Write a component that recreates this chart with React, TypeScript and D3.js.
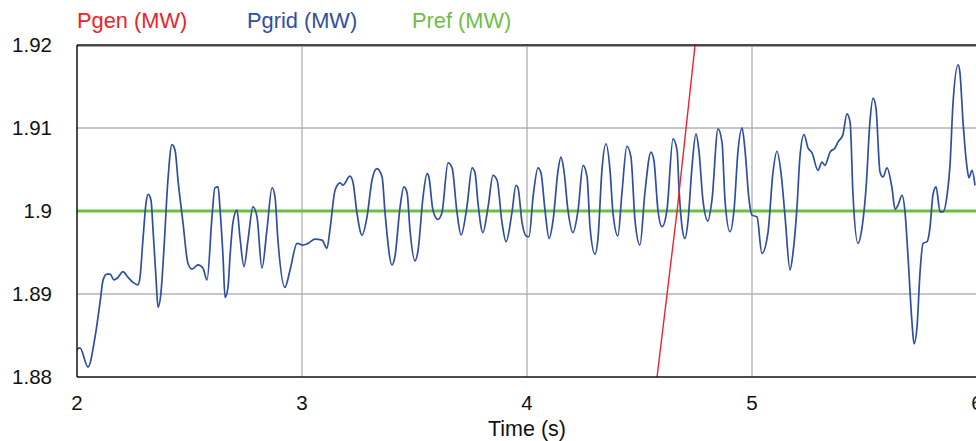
import React from "react";
import * as d3 from "d3";

// Time samples (s) and grid power (MW)
const gridTime = [
  2.0, 2.013, 2.049, 2.08, 2.102, 2.116, 2.133, 2.147, 2.164, 2.182, 2.204, 2.227, 2.249, 2.271, 2.28,
  2.293, 2.307, 2.316, 2.329, 2.338, 2.351, 2.36, 2.373, 2.387, 2.404, 2.422, 2.436, 2.449, 2.471, 2.493,
  2.511, 2.538, 2.56, 2.578, 2.6, 2.613, 2.627, 2.636, 2.649, 2.658, 2.671, 2.68, 2.693, 2.711, 2.724,
  2.742, 2.76, 2.782, 2.8, 2.822, 2.844, 2.867, 2.88, 2.893, 2.924, 2.947, 2.978, 3.004, 3.027, 3.058,
  3.089, 3.111, 3.124, 3.147, 3.169, 3.182, 3.213, 3.227, 3.244, 3.267, 3.289, 3.311, 3.333, 3.356, 3.369,
  3.4, 3.413, 3.436, 3.453, 3.467, 3.48, 3.502, 3.516, 3.538, 3.556, 3.564, 3.582, 3.604, 3.622, 3.649,
  3.667, 3.689, 3.707, 3.733, 3.756, 3.769, 3.782, 3.804, 3.827, 3.849, 3.867, 3.889, 3.907, 3.933, 3.951,
  3.96, 3.978, 3.996, 4.009, 4.027, 4.049, 4.062, 4.08, 4.098, 4.116, 4.138, 4.151, 4.164, 4.182, 4.204,
  4.227, 4.249, 4.267, 4.28, 4.302, 4.316, 4.333, 4.351, 4.369, 4.382, 4.404, 4.422, 4.444, 4.462, 4.48,
  4.502, 4.524, 4.551, 4.564, 4.582, 4.6, 4.622, 4.649, 4.667, 4.676, 4.689, 4.702, 4.716, 4.733, 4.751,
  4.764, 4.782, 4.804, 4.822, 4.849, 4.867, 4.88, 4.902, 4.92, 4.938, 4.956, 4.969, 4.987, 5.0, 5.022,
  5.044, 5.071, 5.093, 5.111, 5.129, 5.147, 5.169, 5.182, 5.2, 5.213, 5.231, 5.249, 5.267, 5.293, 5.311,
  5.324, 5.347, 5.369, 5.382, 5.404, 5.422, 5.436, 5.449, 5.471, 5.489, 5.507, 5.524, 5.538, 5.551, 5.569,
  5.582, 5.6, 5.622, 5.636, 5.649, 5.667, 5.68, 5.693, 5.711, 5.72, 5.733, 5.747, 5.76, 5.778, 5.791,
  5.804, 5.818, 5.836, 5.849, 5.867, 5.88, 5.893, 5.916, 5.924, 5.938, 5.956, 5.964, 5.978, 5.991,
];
const gridPower = [
  1.8833, 1.8835, 1.8812, 1.8848, 1.8889, 1.8917, 1.8924, 1.8924, 1.8917, 1.892, 1.8927, 1.892, 1.8914, 1.8911, 1.892,
  1.8965, 1.901, 1.902, 1.9013, 1.8977, 1.892, 1.8884, 1.8901, 1.8957, 1.9037, 1.908, 1.9073, 1.9037, 1.8986, 1.8937,
  1.893, 1.8935, 1.8931, 1.8917, 1.8993, 1.9028, 1.9029, 1.9001, 1.8945, 1.8896, 1.8908, 1.8945, 1.8986, 1.9001, 1.8969,
  1.8933, 1.8965, 1.9005, 1.8993, 1.8931, 1.8977, 1.9028, 1.9017, 1.8965, 1.8908, 1.8929, 1.8961, 1.8959, 1.8961, 1.8966,
  1.8965, 1.8955, 1.8977, 1.9025, 1.9034, 1.9031, 1.9042, 1.9034, 1.8998, 1.8971, 1.8993, 1.9037, 1.9051, 1.9041, 1.8998,
  1.8935, 1.8945, 1.9005, 1.9029, 1.9022, 1.8977, 1.894, 1.8953, 1.9017, 1.9045, 1.9041, 1.9001, 1.899, 1.8998, 1.9058,
  1.9052, 1.8998, 1.8971, 1.9005, 1.9052, 1.9046, 1.901, 1.8974, 1.9005, 1.9043, 1.9037, 1.8986, 1.8963, 1.8998, 1.9031,
  1.9028, 1.8986, 1.897, 1.8969, 1.9017, 1.9052, 1.9046, 1.9001, 1.8967, 1.8989, 1.9049, 1.9065, 1.9049, 1.9001, 1.8974,
  1.9001, 1.9055, 1.9041, 1.8981, 1.8948, 1.8969, 1.9049, 1.9081, 1.9049, 1.8998, 1.897, 1.9022, 1.9078, 1.9065, 1.8989,
  1.8959, 1.9022, 1.9071, 1.9061, 1.9001, 1.8981, 1.9001, 1.9087, 1.9073, 1.9025, 1.8981, 1.8967, 1.8989, 1.9052, 1.9093,
  1.9073, 1.9013, 1.8988, 1.9013, 1.9099, 1.9082, 1.9013, 1.8975, 1.9001, 1.9073, 1.91, 1.9073, 1.9013, 1.8995, 1.8993,
  1.8949, 1.8974, 1.9046, 1.9072, 1.9046, 1.8993, 1.8929, 1.8949, 1.9005, 1.9065, 1.9092, 1.9076, 1.907, 1.9049, 1.9059,
  1.9055, 1.9071, 1.9076, 1.9083, 1.9092, 1.9117, 1.9107, 1.9019, 1.8961, 1.898, 1.9028, 1.9107, 1.9136, 1.9124, 1.9047,
  1.9041, 1.9052, 1.9028, 1.9002, 1.9007, 1.9019, 1.8999, 1.8947, 1.8866, 1.884, 1.8859, 1.8927, 1.8961, 1.8963, 1.898,
  1.9019, 1.9029, 1.8999, 1.8999, 1.9019, 1.9055, 1.9128, 1.9176, 1.9167, 1.9107, 1.9052, 1.904, 1.9049, 1.9031,
];

// Generator power ramp (MW)
const genTime = [4.578, 4.667, 4.747];
const genPower = [1.88, 1.9, 1.92];

// Reference power (MW)
const refTime = [2, 6];
const refPower = [1.9, 1.9];

const xTicks = [2, 3, 4, 5, 6];
const yTicks = [1.88, 1.89, 1.9, 1.91, 1.92];
const yTickLabels = ["1.88", "1.89", "1.9", "1.91", "1.92"];

const legendItems = ["Pgen (MW)", "Pgrid (MW)", "Pref (MW)"];
const legendColors = ["#ee2229", "#2f4ea3", "#6cbf45"];
const legendX = [77, 247, 412];

const W = 976;
const H = 441;
const left = 77;
const right = 977;
const top = 45;
const bottom = 377;
const FONT = "'Liberation Sans', Arial, Helvetica, sans-serif";

export default function App() {
  const x = d3.scaleLinear().domain([2, 6]).range([left, right]);
  const y = d3.scaleLinear().domain([1.88, 1.92]).range([bottom, top]);

  const line = d3
    .line<[number, number]>()
    .x((d) => x(d[0]))
    .y((d) => y(d[1]))
    .curve(d3.curveMonotoneX);
  const straight = d3
    .line<[number, number]>()
    .x((d) => x(d[0]))
    .y((d) => y(d[1]));

  const gridPts = gridTime.map((t, i) => [t, gridPower[i]] as [number, number]);
  const genPts = genTime.map((t, i) => [t, genPower[i]] as [number, number]);
  const refPts = refTime.map((t, i) => [t, refPower[i]] as [number, number]);

  return (
    <svg
      width={W}
      height={H}
      style={{ position: "absolute", left: 0, top: 0, background: "#fff" }}
      fontFamily={FONT}
    >
      <defs>
        <clipPath id="plot">
          <rect x={left} y={top} width={right - left} height={bottom - top} />
        </clipPath>
      </defs>

      {/* horizontal grid */}
      {yTicks.slice(1).map((v) => (
        <line key={"h" + v} x1={left} x2={right} y1={y(v) + (v === 1.92 ? 1.3 : 0)} y2={y(v) + (v === 1.92 ? 1.3 : 0)} stroke="#8c8c8c" strokeWidth={1} />
      ))}
      {/* vertical grid */}
      {xTicks.slice(1).map((t) => (
        <line key={"v" + t} x1={x(t)} x2={x(t)} y1={top} y2={bottom} stroke="#a8a8a8" strokeWidth={1.2} />
      ))}

      <g clipPath="url(#plot)">
        <path d={straight(refPts) || ""} fill="none" stroke={legendColors[2]} strokeWidth={3} />
        <path d={line(gridPts) || ""} fill="none" stroke={legendColors[1]} strokeWidth={1.7} />
        <path d={straight(genPts) || ""} fill="none" stroke={legendColors[0]} strokeWidth={1.4} />
      </g>

      {/* frame */}
      <line x1={left} x2={right} y1={top} y2={top} stroke="#111" strokeWidth={1.5} />
      <line x1={left} x2={left} y1={top} y2={bottom} stroke="#111" strokeWidth={1.5} />
      <line x1={left} x2={right} y1={bottom} y2={bottom} stroke="#111" strokeWidth={1.5} />

      {/* y tick labels */}
      {yTicks.map((v, i) => (
        <text key={"yl" + v} x={52} y={y(v)} dy="0.36em" textAnchor="end" fontSize={20.5} fill="#111">
          {yTickLabels[i]}
        </text>
      ))}
      {/* x tick labels */}
      {xTicks.map((t) => (
        <text key={"xl" + t} x={x(t)} y={410} textAnchor="middle" fontSize={20.5} fill="#111">
          {t}
        </text>
      ))}
      <text x={527} y={436} textAnchor="middle" fontSize={21.5} fill="#111">
        Time (s)
      </text>

      {/* legend */}
      {legendItems.map((s, i) => (
        <text key={s} x={legendX[i]} y={28} fontSize={21.8} fill={legendColors[i]}>
          {s}
        </text>
      ))}
    </svg>
  );
}
